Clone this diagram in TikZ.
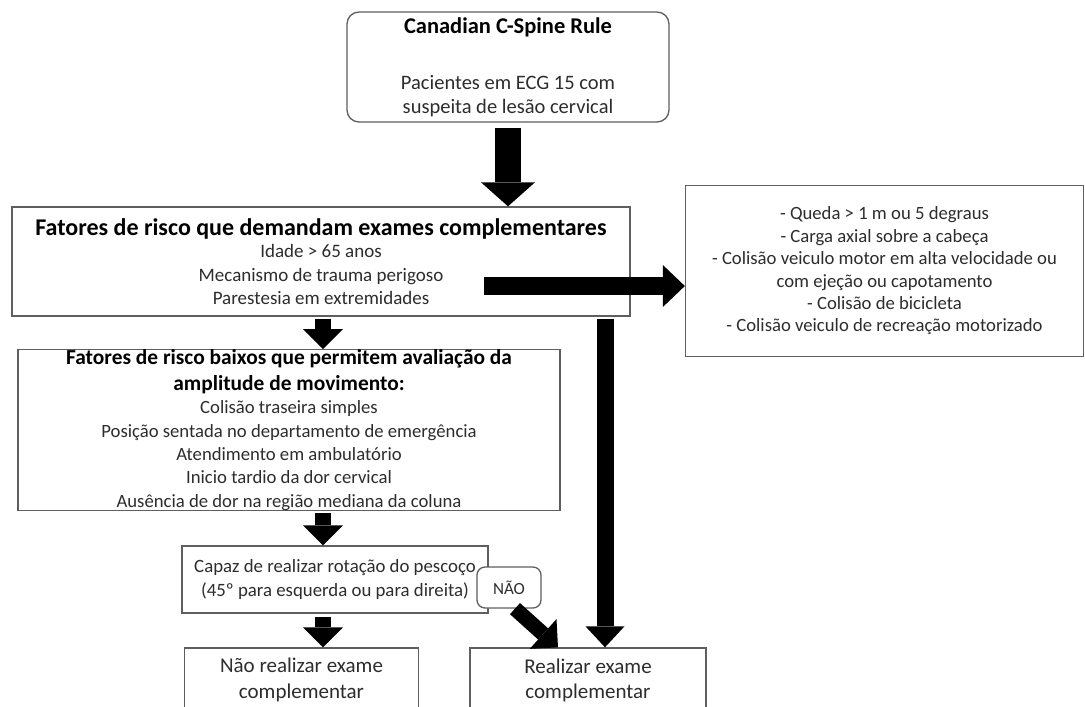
\documentclass[tikz,border=0pt]{standalone}
\usepackage{fontspec}
\setmainfont{Carlito}
\usetikzlibrary{arrows.meta,calc}
\definecolor{boxline}{RGB}{95,95,95}
\definecolor{txt}{RGB}{45,45,45}
\newcommand{\ttl}[1]{{\bfseries\color{black}#1}}
\tikzset{
  box/.style={draw=boxline, line width=1.3pt, fill=white, inner sep=0pt, align=center, text=txt},
  rbox/.style={box, rounded corners=12pt},
  bigarrow/.style={line width=26pt, -{Triangle[width=54pt,length=24pt,line width=0pt]}},
  midarrow/.style={line width=18pt, -{Triangle[width=42pt,length=22pt,line width=0pt]}},
  vertarrow/.style={line width=17pt, -{Triangle[width=39pt,length=21pt,line width=0pt]}},
  smallarrow/.style={line width=16pt, -{Triangle[width=40pt,length=20pt,line width=0pt]}},
}
\begin{document}
\begin{tikzpicture}[x=1pt,y=-1pt]
\useasboundingbox (0,0) rectangle (1085,707);
\clip (0,0) rectangle (1085,707);
\fill[white] (0,0) rectangle (1085,707);

% top box
\node[rbox, minimum width=322pt, minimum height=110pt, font={\fontsize{20.5}{24}\selectfont}] (top) at (508,67)
 {\ttl{\fontsize{22.5}{24}\selectfont Canadian C-Spine Rule}\\[32pt]
  Pacientes em ECG 15 com\\ suspeita de lesão cervical};

% box 2
\node[box, minimum width=618pt, minimum height=109pt, font={\fontsize{19}{23.5}\selectfont}] (b2) at (321,261.5)
 {\ttl{\fontsize{24}{24}\selectfont Fatores de risco que demandam exames complementares}\\[-1pt]
  Idade > 65 anos\\ Mecanismo de trauma perigoso\\ Parestesia em extremidades};

% right box
\node[box, minimum width=398pt, minimum height=171pt, font={\fontsize{18.7}{22.4}\selectfont}] (rb) at (884.5,271)
 {- Queda > 1 m ou 5 degraus\\ - Carga axial sobre a cabeça\\
  - Colisão veiculo motor em alta velocidade ou\\ com ejeção ou capotamento\\
  - Colisão de bicicleta\\ - Colisão veiculo de recreação motorizado};

% box 3
\node[box, minimum width=542pt, minimum height=160pt, font={\fontsize{18.7}{23.3}\selectfont}] (b3) at (289,430)
 {\ttl{\fontsize{21.4}{23}\selectfont Fatores de risco baixos que permitem avaliação da}\\[2.5pt]
  \ttl{\fontsize{21.4}{23}\selectfont amplitude de movimento:}\\
  Colisão traseira simples\\ Posição sentada no departamento de emergência\\
  Atendimento em ambulatório\\ Inicio tardio da dor cervical\\ Ausência de dor na região mediana da coluna};

% box 4
\node[box, minimum width=306pt, minimum height=67pt, font={\fontsize{18.8}{24}\selectfont}] (b4) at (335,579.5)
 {Capaz de realizar rotação do pescoço\\ (45º para esquerda ou para direita)};

% NAO label
\node[rbox, rounded corners=8pt, minimum width=64pt, minimum height=41pt, font={\fontsize{17}{18}\selectfont}] (nao) at (509,587.5)
 {NÃO};

% bottom boxes
\node[box, minimum width=234pt, minimum height=64pt, font={\fontsize{21}{26}\selectfont}] (b5) at (301.5,680)
 {Não realizar exame\\ complementar};
\node[box, minimum width=236pt, minimum height=64pt, font={\fontsize{21}{25}\selectfont}] (b6) at (588,680)
 {Realizar exame\\ complementar};

% connector helper coordinates
\coordinate (hstart) at (484,286);
\coordinate (xv) at (605,0);
\coordinate (xd) at (558,0);
\coordinate (x323) at (323,0);

% arrows
\draw[bigarrow, shorten <=5pt] (top.south) -- (top.south |- b2.north);
\draw[midarrow] (hstart) -- (rb.west |- hstart);
\draw[vertarrow, shorten <=2pt] (b2.south -| xv) -- (b6.north -| xv);
\draw[smallarrow, shorten <=2pt] (b2.south -| x323) -- (b3.north -| x323);
\draw[smallarrow, shorten <=2pt] (b3.south -| x323) -- (b4.north -| x323);
\draw[smallarrow, shorten <=3pt] (b4.south -| x323) -- (b5.north -| x323);
\draw[smallarrow, line width=15pt] ([xshift=6pt]nao.south) -- (b6.north -| xd);
\end{tikzpicture}
\end{document}
